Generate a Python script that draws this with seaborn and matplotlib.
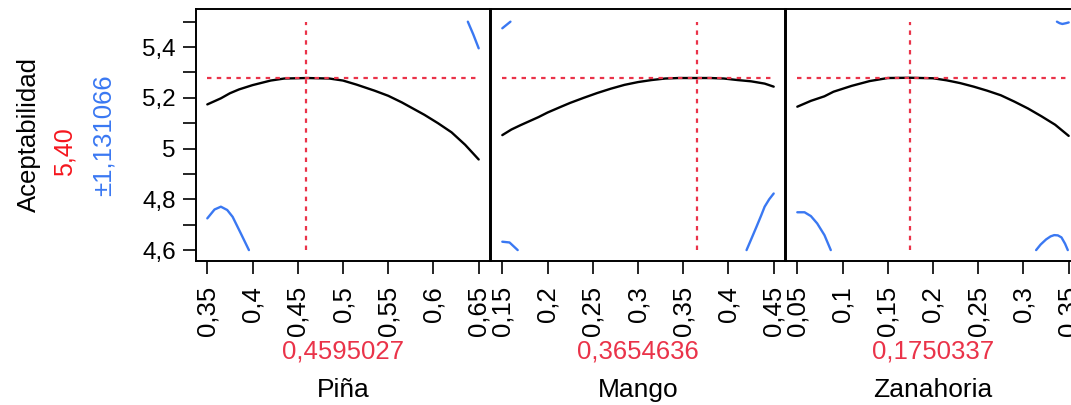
import numpy as np
import pandas as pd
import matplotlib
matplotlib.use("Agg")
import matplotlib.pyplot as plt
import seaborn as sns

sns.set_theme(style="white", rc={"text.color": "black", "xtick.color": "black",
                                 "ytick.color": "black", "axes.edgecolor": "black"})
plt.rcParams["font.family"] = ["Liberation Sans", "DejaVu Sans"]

factors = ["Piña", "Mango", "Zanahoria"]
current = [0.4595027, 0.3654636, 0.1750337]
current_txt = ["0,4595027", "0,3654636", "0,1750337"]
x_lo = [0.35, 0.15, 0.05]
x_hi = [0.65, 0.45, 0.35]

y_label = "Aceptabilidad"
pred_txt = "5,40"
ci_txt = "±1,131066"
pred_level = 5.278
y_clip = [4.6, 5.5]

pina_x = [0.35, 0.365, 0.375, 0.385, 0.40, 0.42, 0.435, 0.46, 0.485, 0.50,
          0.515, 0.535, 0.55, 0.565, 0.59, 0.605, 0.62, 0.635, 0.65]
pina_y = [5.174, 5.198, 5.218, 5.233, 5.250, 5.268, 5.276, 5.278, 5.276, 5.268,
          5.252, 5.228, 5.208, 5.182, 5.133, 5.100, 5.064, 5.015, 4.957]

mango_x = [0.15, 0.16, 0.17, 0.18, 0.19, 0.20, 0.215, 0.225, 0.24, 0.255, 0.27, 0.285,
           0.30, 0.315, 0.33, 0.345, 0.365, 0.38, 0.395, 0.41, 0.425, 0.44, 0.45]
mango_y = [5.053, 5.075, 5.092, 5.108, 5.124, 5.142, 5.165, 5.180, 5.200, 5.219, 5.236, 5.251,
           5.262, 5.270, 5.276, 5.278, 5.278, 5.278, 5.276, 5.270, 5.265, 5.256, 5.244]

zana_x = [0.05, 0.065, 0.08, 0.09, 0.11, 0.13, 0.15, 0.175, 0.20, 0.215,
          0.23, 0.245, 0.26, 0.275, 0.29, 0.305, 0.32, 0.335, 0.35]
zana_y = [5.165, 5.188, 5.206, 5.224, 5.247, 5.266, 5.278, 5.279, 5.277, 5.269,
          5.258, 5.244, 5.228, 5.210, 5.185, 5.158, 5.127, 5.094, 5.050]

# confidence band pieces that fall inside the 4.6 - 5.5 window
pina_band = [
    ([0.35, 0.358, 0.365, 0.372, 0.378, 0.387, 0.396],
     [4.725, 4.760, 4.771, 4.758, 4.731, 4.666, 4.600]),
    ([0.638, 0.644, 0.65], [5.500, 5.450, 5.395]),
]
mango_band = [
    ([0.15, 0.159], [5.474, 5.500]),
    ([0.15, 0.158, 0.167], [4.633, 4.630, 4.600]),
    ([0.42, 0.426, 0.431, 0.436, 0.44, 0.445, 0.45],
     [4.600, 4.650, 4.692, 4.735, 4.771, 4.800, 4.823]),
]
zana_band = [
    ([0.05, 0.058, 0.065, 0.072, 0.08, 0.087],
     [4.749, 4.749, 4.734, 4.705, 4.659, 4.600]),
    ([0.314, 0.319, 0.325, 0.330, 0.334, 0.338, 0.342, 0.346, 0.349],
     [4.600, 4.622, 4.642, 4.654, 4.659, 4.658, 4.650, 4.625, 4.600]),
    ([0.337, 0.340, 0.343, 0.347, 0.35], [5.500, 5.494, 5.491, 5.494, 5.497]),
]

curves = [(pina_x, pina_y), (mango_x, mango_y), (zana_x, zana_y)]
bands = [pina_band, mango_band, zana_band]

RED = "#ea3349"
RED2 = "#f5161e"
BLUE = "#3a78f2"

W, H = 1071, 405
fig = plt.figure(figsize=(W / 100, H / 100), dpi=100, facecolor="white")

lefts = [196, 491, 786]
pw = 294
top_px, bot_px = 9.5, 261

def fmt(v):
    return f"{v:g}".replace(".", ",")

for i, name in enumerate(factors):
    ax = fig.add_axes([lefts[i] / W, 1 - bot_px / H, pw / W, (bot_px - top_px) / H])
    cx, cy = curves[i]
    sns.lineplot(x=cx, y=cy, ax=ax, color="black", lw=1.7, sort=False, estimator=None)
    for bx, by in bands[i]:
        sns.lineplot(x=bx, y=by, ax=ax, color=BLUE, lw=1.7, sort=False, estimator=None)
    # crosshair
    ax.plot([x_lo[i], x_hi[i]], [pred_level, pred_level], color=RED, lw=1.6,
            linestyle=(0, (2, 2.4)))
    ax.plot([current[i], current[i]], y_clip, color=RED, lw=1.6,
            linestyle=(0, (2, 2.4)))

    ax.set_xlim(x_lo[i] - 0.0125, x_hi[i] + 0.0125)
    ax.set_ylim(4.557, 5.548)
    xt = [round(x_lo[i] + 0.05 * k, 2) for k in range(7)]
    ax.set_xticks(xt)
    ax.set_xticklabels([fmt(v) for v in xt], rotation=90, fontsize=18.5, color="black")
    ax.tick_params(axis="x", direction="out", length=9, width=1.2, pad=9,
                   bottom=True, color="black", labelcolor="black")
    if i == 0:
        yt = [4.6, 4.8, 5.0, 5.2, 5.4]
        ax.set_yticks(yt)
        ax.set_yticks([4.7, 4.9, 5.1, 5.3, 5.5], minor=True)
        ax.set_yticklabels([fmt(v) for v in yt], fontsize=17.5, color="black")
        ax.tick_params(axis="y", which="both", direction="out", length=9.5,
                       width=1.2, pad=5, left=True, color="black", labelcolor="black")
    else:
        ax.set_yticks([])
    for s in ax.spines.values():
        s.set_color("black")
        s.set_linewidth(1.4)
    ax.set_xlabel("")
    ax.set_ylabel("")

    xc = (lefts[i] + pw / 2) / W
    fig.text(xc, 1 - 358 / H, current_txt[i], color=RED, ha="center",
             va="baseline", fontsize=18.5)
    fig.text(xc, 1 - 397 / H, name, color="black", ha="center",
             va="baseline", fontsize=19)

fig.text(29 / W, 1 - 135 / H, y_label, rotation=90, ha="center", va="center",
         fontsize=18.5, color="black")
fig.text(65 / W, 1 - 152 / H, pred_txt, rotation=90, ha="center", va="center",
         fontsize=18, color=RED2)
fig.text(104 / W, 1 - 135 / H, ci_txt, rotation=90, ha="center", va="center",
         fontsize=18.5, color=BLUE)

fig.savefig("out.png", dpi=100, facecolor="white")
